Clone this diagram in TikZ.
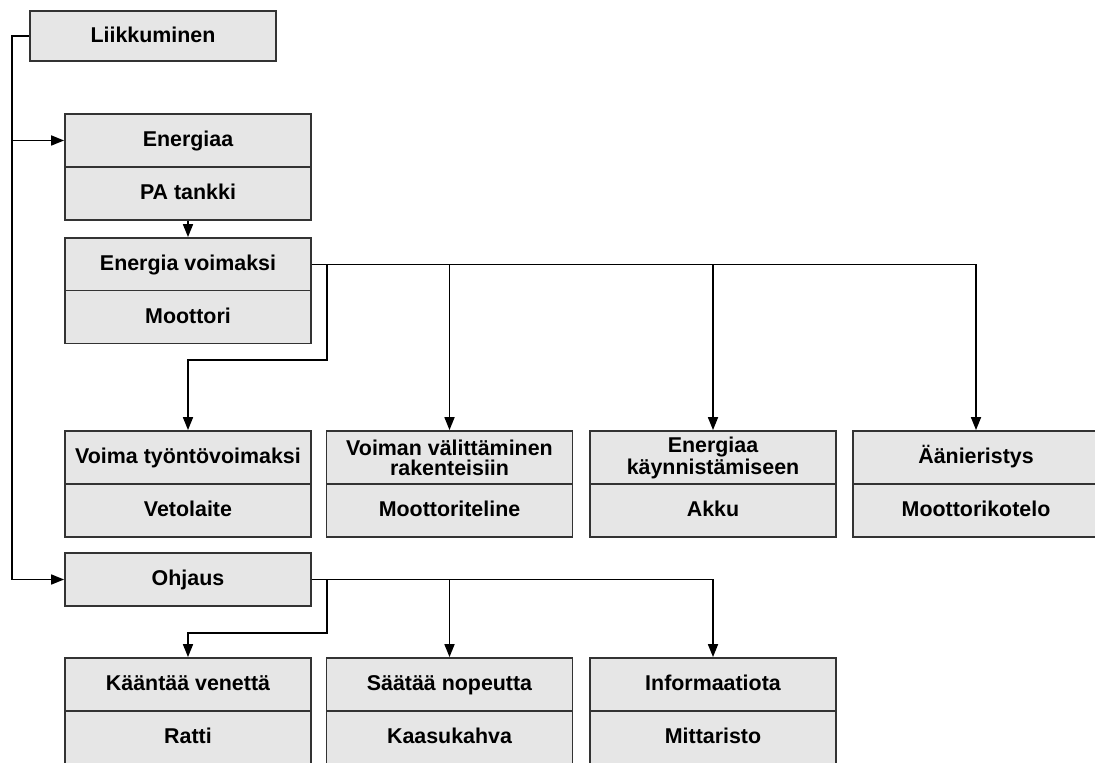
\documentclass[tikz,border=0pt]{standalone}
\usepackage{fontspec}
\setmainfont{Liberation Sans}
\usetikzlibrary{arrows.meta}
\definecolor{boxfill}{HTML}{E6E6E6}
\definecolor{boxline}{HTML}{333333}
\begin{document}
\begin{tikzpicture}[x=0.5pt,y=-0.5pt,
  cell/.style={draw=boxline, fill=boxfill, line width=0.9pt,
    minimum width=123pt, minimum height=26.5pt, inner sep=1pt,
    align=center, text=black,
    font=\fontsize{10.7}{10}\selectfont\bfseries},
  one/.style={cell, text height=8.4pt, text depth=2.2pt},
  link/.style={draw=black, line width=0.85pt},
  arr/.style={link, -{Triangle[length=6.5pt,width=5pt]}}]
\clip (0,0) rectangle (1095,763);

% root
\node[one, minimum height=25pt] (liik) at (153,36) {Liikkuminen};

% energy chain
\node[one] (energiaT) at (188,140.5) {Energiaa};
\node[one] (energiaB) at (188,193.5) {PA tankki};
\node[one] (voimaT)   at (188,264.5) {Energia voimaksi};
\node[one] (voimaB)   at (188,317)   {Moottori};

% functions fed by the engine
\node[one]  (tyontoT) at (188,457.5)   {Voima työntövoimaksi};
\node[one]  (tyontoB) at (188,510.5)   {Vetolaite};
\node[cell] (valT)    at (449.5,457.5) {Voiman välittäminen\\rakenteisiin};
\node[one]  (valB)    at (449.5,510.5) {Moottoriteline};
\node[cell] (kaynT)   at (713,457.5)   {Energiaa\\käynnistämiseen};
\node[one]  (kaynB)   at (713,510.5)   {Akku};
\node[one]  (aanT)    at (976,457.5)   {Äänieristys};
\node[one]  (aanB)    at (976,510.5)   {Moottorikotelo};

% steering
\node[one] (ohjaus)  at (188,579.5)   {Ohjaus};
\node[one] (kaantoT) at (188,684.5)   {Kääntää venettä};
\node[one] (kaantoB) at (188,737.5)   {Ratti};
\node[one] (saatoT)  at (449.5,684.5) {Säätää nopeutta};
\node[one] (saatoB)  at (449.5,737.5) {Kaasukahva};
\node[one] (infoT)   at (713,684.5)   {Informaatiota};
\node[one] (infoB)   at (713,737.5)   {Mittaristo};

% left rail
\coordinate (rail) at (12,0);
\draw[arr] (liik.west) -| (rail |- energiaT.west) -- (energiaT.west);
\draw[arr] (rail |- energiaT.west) |- (ohjaus.west);

\draw[arr] (energiaB.south) -- (voimaT.north);

% engine branches
\coordinate (vbend) at (327,360);
\draw[arr] (voimaT.east) -| (vbend) -| (tyontoT.north);
\draw[arr] (voimaT.east) -| (valT.north);
\draw[arr] (voimaT.east) -| (kaynT.north);
\draw[arr] (voimaT.east) -| (aanT.north);

% steering branches
\coordinate (obend) at (327,633);
\draw[arr] (ohjaus.east) -| (obend) -| (kaantoT.north);
\draw[arr] (ohjaus.east) -| (saatoT.north);
\draw[arr] (ohjaus.east) -| (infoT.north);
\end{tikzpicture}
\end{document}
